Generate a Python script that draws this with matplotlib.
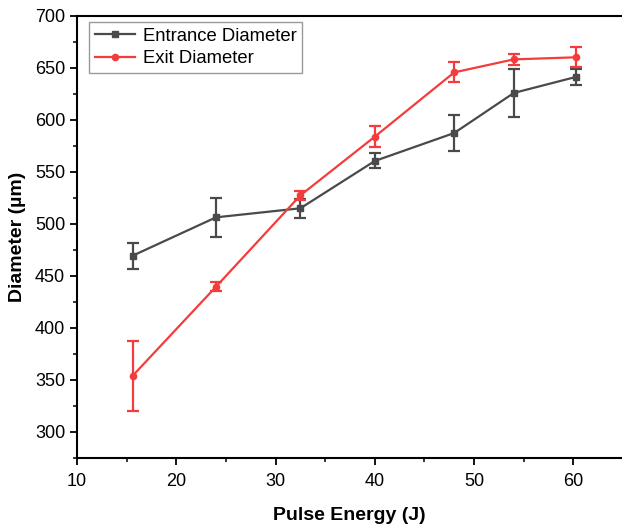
import numpy as np
import matplotlib
matplotlib.use('Agg')
import matplotlib.pyplot as plt
from matplotlib.ticker import MultipleLocator

plt.rcParams['font.family'] = ['Liberation Sans', 'DejaVu Sans']

# pulse energy (J)
energy = [15.6, 24.0, 32.5, 40.0, 48.0, 54.0, 60.3]

# entrance hole diameter and std (um)
entrance = [469.5, 506.4, 515.1, 560.6, 587.5, 626.0, 641.5]
entrance_err = [12.6, 18.6, 9.0, 7.2, 17.3, 23.3, 7.5]

# exit hole diameter and std (um)
exit_d = [354.0, 439.7, 527.5, 584.0, 645.8, 658.3, 660.3]
exit_err = [33.8, 4.2, 4.5, 10.4, 9.7, 5.0, 9.6]

gray = '#4a4a4a'
red = '#f43c3c'

fig = plt.figure(figsize=(6.22, 5.27), dpi=100)
ax = fig.add_axes([77/622, 1-458/527, 1-77/622, (458-16)/527])

e1 = ax.errorbar(energy, entrance, yerr=entrance_err, color=gray, marker='s', ms=4,
                 lw=1.6, elinewidth=1.6, capsize=4.5, capthick=1.6)
e2 = ax.errorbar(energy, exit_d, yerr=exit_err, color=red, marker='o', ms=4.5,
                 lw=1.6, elinewidth=1.6, capsize=4.5, capthick=1.6)

ax.set_xlim(10, 64.9)
ax.set_ylim(275, 700)
ax.xaxis.set_major_locator(MultipleLocator(10))
ax.xaxis.set_minor_locator(MultipleLocator(5))
ax.yaxis.set_major_locator(MultipleLocator(50))
ax.yaxis.set_minor_locator(MultipleLocator(25))
ax.tick_params(which='major', direction='out', length=5, width=1.3, labelsize=13, colors='black')
ax.tick_params(axis='x', which='major', pad=6)
ax.tick_params(which='minor', direction='out', length=3, width=1.1)
ax.tick_params(top=False, right=False)

for s in ['left', 'bottom', 'top']:
    ax.spines[s].set_linewidth(1.5)
ax.spines['right'].set_visible(False)

ax.set_xlabel('Pulse Energy (J)', fontsize=14, fontweight='bold', labelpad=12)
ax.set_ylabel('Diameter (µm)', fontsize=14, fontweight='bold', labelpad=6)

# legend shows line + marker only, no error bars
leg = ax.legend([e1[0], e2[0]], ['Entrance Diameter', 'Exit Diameter'],
                loc='upper left', fontsize=13.3, frameon=True, fancybox=False,
                edgecolor='#808080', handlelength=2.2, borderpad=0.3,
                labelspacing=0.3, handletextpad=0.4, borderaxespad=0,
                bbox_to_anchor=(12/545, 1-6/442))
leg.get_frame().set_linewidth(1.0)

fig.savefig('out.png', dpi=100)
